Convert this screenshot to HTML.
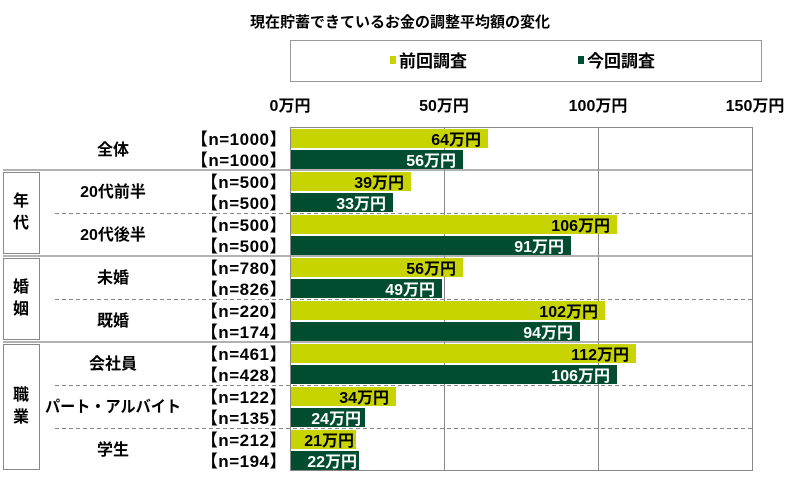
<!DOCTYPE html>
<html><head><meta charset="utf-8"><style>
html,body{margin:0;padding:0;background:#fff;}
svg{display:block;font-family:"Liberation Sans","Noto Sans CJK JP",sans-serif;font-weight:bold;}
</style></head><body>
<svg width="800" height="481" viewBox="0 0 800 481">
<text x="400" y="27" font-size="15" text-anchor="middle">現在貯蓄できているお金の調整平均額の変化</text>
<rect x="290.5" y="40.5" width="471" height="41" fill="#fff" stroke="#999"/>
<rect x="390" y="56" width="6" height="8" fill="#c8d400"/>
<text x="399" y="67" font-size="17">前回調査</text>
<rect x="578" y="56" width="6" height="8" fill="#004d30"/>
<text x="587" y="67" font-size="17">今回調査</text>
<g font-size="16" text-anchor="middle">
<text x="290" y="111">0万円</text><text x="444" y="111">50万円</text><text x="598" y="111">100万円</text><text x="755" y="111">150万円</text>
</g>
<g stroke="#888" stroke-width="1">
<line x1="290.5" y1="127" x2="290.5" y2="471"/>
<line x1="444.5" y1="127" x2="444.5" y2="471"/>
<line x1="598.5" y1="127" x2="598.5" y2="471"/>
<line x1="752.5" y1="127" x2="752.5" y2="471"/>
<line x1="290" y1="127.5" x2="752" y2="127.5"/>
<line x1="290" y1="470.5" x2="752" y2="470.5"/>
</g>
<g stroke="#999" stroke-width="1.5">
<line x1="3" y1="170" x2="752" y2="170"/>
<line x1="3" y1="256" x2="752" y2="256"/>
<line x1="3" y1="342" x2="752" y2="342"/>
</g>
<g stroke="#888" stroke-width="1" stroke-dasharray="4,3">
<line x1="55" y1="213.5" x2="752" y2="213.5"/>
<line x1="55" y1="299.5" x2="752" y2="299.5"/>
<line x1="55" y1="385.5" x2="752" y2="385.5"/>
<line x1="55" y1="428.5" x2="752" y2="428.5"/>
</g>
<g fill="#fff" stroke="#888">
<rect x="3.5" y="172.5" width="36" height="81"/>
<rect x="3.5" y="258.5" width="36" height="81"/>
<rect x="3.5" y="344.5" width="36" height="125"/>
</g>
<g font-size="16" text-anchor="middle">
<text x="21" y="206">年</text><text x="21" y="228">代</text>
<text x="21" y="292">婚</text><text x="21" y="314">姻</text>
<text x="21" y="400">職</text><text x="21" y="422">業</text>
<text x="113" y="155">全体</text>
<text x="113" y="197">20代前半</text>
<text x="113" y="240">20代後半</text>
<text x="113" y="283">未婚</text>
<text x="113" y="326">既婚</text>
<text x="113" y="369">会社員</text>
<text x="113" y="412" textLength="136" lengthAdjust="spacingAndGlyphs">パート・アルバイト</text>
<text x="113" y="455">学生</text>
</g>
<g font-size="17" text-anchor="end" letter-spacing="0.5">
<text x="287" y="145">【n=1000】</text><text x="287" y="166">【n=1000】</text>
<text x="287" y="188">【n=500】</text><text x="287" y="209">【n=500】</text>
<text x="287" y="231">【n=500】</text><text x="287" y="252">【n=500】</text>
<text x="287" y="274">【n=780】</text><text x="287" y="295">【n=826】</text>
<text x="287" y="317">【n=220】</text><text x="287" y="338">【n=174】</text>
<text x="287" y="360">【n=461】</text><text x="287" y="381">【n=428】</text>
<text x="287" y="403">【n=122】</text><text x="287" y="424">【n=135】</text>
<text x="287" y="446">【n=212】</text><text x="287" y="467">【n=194】</text>
</g>
<g>
<rect x="291" y="129" width="197" height="19" fill="#c8d400"/>
<rect x="291" y="150" width="172" height="19" fill="#004d30"/>
<rect x="291" y="172" width="120" height="19" fill="#c8d400"/>
<rect x="291" y="193" width="102" height="19" fill="#004d30"/>
<rect x="291" y="215" width="326" height="19" fill="#c8d400"/>
<rect x="291" y="236" width="280" height="19" fill="#004d30"/>
<rect x="291" y="258" width="172" height="19" fill="#c8d400"/>
<rect x="291" y="279" width="151" height="19" fill="#004d30"/>
<rect x="291" y="301" width="314" height="19" fill="#c8d400"/>
<rect x="291" y="322" width="289" height="19" fill="#004d30"/>
<rect x="291" y="344" width="345" height="19" fill="#c8d400"/>
<rect x="291" y="365" width="326" height="19" fill="#004d30"/>
<rect x="291" y="387" width="105" height="19" fill="#c8d400"/>
<rect x="291" y="408" width="74" height="19" fill="#004d30"/>
<rect x="291" y="430" width="65" height="19" fill="#c8d400"/>
<rect x="291" y="451" width="68" height="19" fill="#004d30"/>
</g>
<g font-size="16" text-anchor="end">
<text x="481" y="145">64万円</text>
<text x="456" y="166" fill="#fff">56万円</text>
<text x="404" y="188">39万円</text>
<text x="386" y="209" fill="#fff">33万円</text>
<text x="610" y="231">106万円</text>
<text x="564" y="252" fill="#fff">91万円</text>
<text x="456" y="274">56万円</text>
<text x="435" y="295" fill="#fff">49万円</text>
<text x="598" y="317">102万円</text>
<text x="573" y="338" fill="#fff">94万円</text>
<text x="629" y="360">112万円</text>
<text x="610" y="381" fill="#fff">106万円</text>
<text x="389" y="403">34万円</text>
<text x="361" y="424" fill="#fff">24万円</text>
<text x="354" y="446">21万円</text>
<text x="357" y="467" fill="#fff">22万円</text>
</g>
</svg>
</body></html>
